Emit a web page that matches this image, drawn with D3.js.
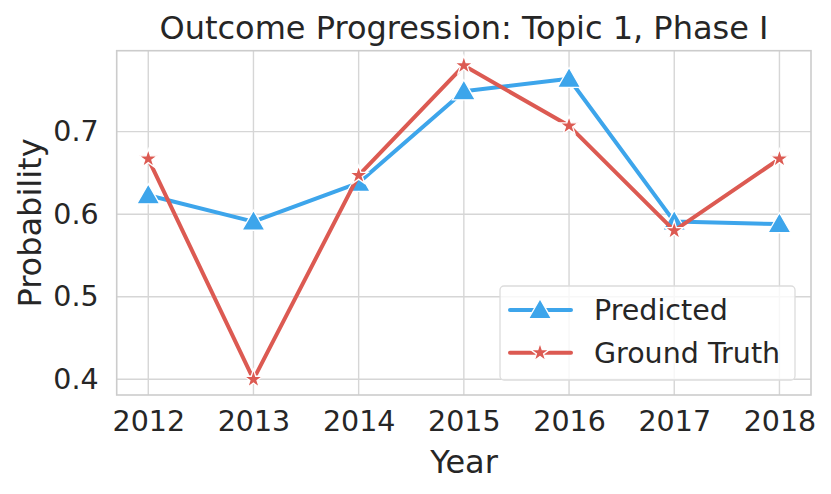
<!DOCTYPE html>
<html><head><meta charset="utf-8">
<script src="https://cdn.jsdelivr.net/npm/d3@7"></script>
<style>body{margin:0;background:#fff}svg{display:block}text{font-family:"DejaVu Sans",sans-serif;fill:#262626}</style>
</head><body><svg id="c" width="831" height="494"></svg>
<script>
const years = [2012, 2013, 2014, 2015, 2016, 2017, 2018];
const predicted = [0.623, 0.591, 0.638, 0.749, 0.764, 0.591, 0.588];
const groundTruth = [0.667, 0.400, 0.647, 0.780, 0.707, 0.580, 0.667];
const yTicks = [0.4, 0.5, 0.6, 0.7];
const title = "Outcome Progression: Topic 1, Phase I";
const xLabel = "Year", yLabel = "Probability";
const seriesNames = ["Predicted", "Ground Truth"];
const colors = ["#3da5eb", "#dc5a52"];

const svg = d3.select("#c");
const L = 116.7, R = 811, T = 50.7, B = 395;
const x = d3.scaleLinear().domain([2011.7, 2018.3]).range([L, R]);
const y = d3.scaleLinear().domain([0.381, 0.798]).range([B, T]);

const grid = svg.append("g").attr("stroke", "#d6d6d6").attr("stroke-width", 1.4);
years.forEach(v => grid.append("line").attr("x1", x(v)).attr("x2", x(v)).attr("y1", T).attr("y2", B));
yTicks.forEach(v => grid.append("line").attr("x1", L).attr("x2", R).attr("y1", y(v)).attr("y2", y(v)));
svg.append("rect").attr("x", L).attr("y", T).attr("width", R - L).attr("height", B - T)
  .attr("fill", "none").attr("stroke", "#cccccc").attr("stroke-width", 1.6);

const xa = svg.append("g").attr("transform", `translate(0,${B})`)
  .call(d3.axisBottom(x).tickValues(years).tickFormat(d3.format("d")).tickSize(0).tickPadding(16));
const ya = svg.append("g").attr("transform", `translate(${L},0)`)
  .call(d3.axisLeft(y).tickValues(yTicks).tickFormat(d3.format(".1f")).tickSize(0).tickPadding(18));
[xa, ya].forEach(a => { a.select(".domain").remove(); a.selectAll("text").attr("font-size", 28.5).attr("fill", "#262626").attr("font-family", "DejaVu Sans"); });

svg.append("text").attr("x", 464).attr("y", 39).attr("text-anchor", "middle").attr("font-size", 32).text(title);
svg.append("text").attr("x", 464).attr("y", 473).attr("text-anchor", "middle").attr("font-size", 32).text(xLabel);
svg.append("text").attr("transform", "translate(41,223) rotate(-90)").attr("text-anchor", "middle").attr("font-size", 32).text(yLabel);

const tri = d3.symbol().type(d3.symbolTriangle).size(230);
const star = d3.symbol().type(d3.symbolStar).size(110);
const data = [predicted, groundTruth];
const shapes = [tri, star];
data.forEach((vals, i) => {
  const pts = years.map((yr, j) => [yr, vals[j]]);
  svg.append("path").datum(pts).attr("fill", "none").attr("stroke", colors[i]).attr("stroke-width", 4)
    .attr("stroke-linejoin", "round").attr("d", d3.line().x(d => x(d[0])).y(d => y(d[1])));
  svg.append("g").selectAll("path").data(pts).join("path")
    .attr("transform", d => `translate(${x(d[0])},${y(d[1]) + (i === 0 ? 2 : 0)})`)
    .attr("d", shapes[i]()).attr("fill", colors[i]).attr("stroke", "#fff").attr("stroke-width", 1.3);
});

const lg = svg.append("g");
lg.append("rect").attr("x", 500).attr("y", 286).attr("width", 295).attr("height", 94).attr("rx", 4)
  .attr("fill", "#fff").attr("fill-opacity", 0.8).attr("stroke", "#dcdcdc").attr("stroke-width", 1.3);
seriesNames.forEach((n, i) => {
  const yy = 310 + i * 42.7;
  lg.append("line").attr("x1", 510).attr("x2", 571).attr("y1", yy).attr("y2", yy).attr("stroke", colors[i]).attr("stroke-width", 4).attr("stroke-linecap", "round");
  lg.append("path").attr("transform", `translate(540,${yy + (i === 0 ? 2 : 0)})`).attr("d", shapes[i]()).attr("fill", colors[i]).attr("stroke", "#fff").attr("stroke-width", 1.3);
  lg.append("text").attr("x", 594).attr("y", yy).attr("dy", "0.35em").attr("font-size", 28.5).text(n);
});
</script></body></html>
